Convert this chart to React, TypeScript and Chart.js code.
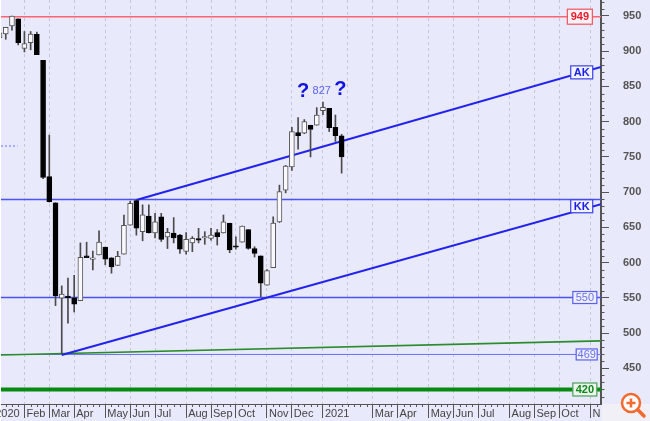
import React, { useEffect, useRef } from "react";
import { Chart, registerables } from "chart.js";

Chart.register(...registerables);

const FONT = '"Liberation Sans", Arial, sans-serif';

const weeks = [-1,0,1,2,3,4,5,6,7,8,9,10,11,12,13,14,15,16,17,18,19,20,21,22,23,24,25,26,27,28,29,30,31,32,33,34,35,36,37,38,39,40,41,42,43,44,45,46,47,48,49,50,51,52,53,54];
const opens = [919,924.5,936,946,904,912,924,887,722,685,549.5,552.6,550,546,609.5,604.5,611,622,607,596,612,653,688,644,666,642,665,636.5,642,639,616,628,634,635,634.5,642.5,642,655.7,624,629,647,620,609.5,568,593,657.7,703,736,784.5,783.6,794.7,795,815.6,819,792,780];
const closes = [926,934,950,912,911,924.5,895,721,686.5,552.6,555.5,550,541,607.6,607,607,629,605,594,609,653,684,649,668,642.5,658,633,643,635,619,633,634.5,632,637,639,636.7,658,618,622,652,620,613,570.7,588.6,656,700.7,737,786,780,800,789,809.5,820.5,791.5,780,750];
const highs = [926,934,950,946,928,928,927,887,781,685,567,578,582,628,629,616.5,645,622,607,616,667.6,687,689,682,682,670,670,648.7,664,640,642.5,637,648.7,644,648.7,647,667.6,656,636.7,652,647,622.6,609.5,590,665,710,738,792,806,803,795,820,828,819,809.5,782];
const lows = [915,917,930,909,899,902,895,719,686,539,471,514,530,546,607,589.5,611,597,585,596,612,653,639,631,642,635,630,620,628,613,612,615.5,628,626,632,625,642,614,619,629,619,608,551.7,568,593,657,699,731,761,783,750,795,810,786,772,727];

const monthWeeks = [-2.02,3,7,11,16,20,24,29,33,37,42,46,51,55,59,63,68,72,76,81,85,89,94];
const monthLabels = ["2020","Feb","Mar","Apr","May","Jun","Jul","Aug","Sep","Oct","Nov","Dec","2021","","Mar","Apr","May","Jun","Jul","Aug","Sep","Oct","N"];
const priceTicks = [450,500,550,600,650,700,750,800,850,900,950];
const minorPrices = [410,420,430,440,460,470,480,490,510,520,530,540,560,570,580,590,610,620,630,640,660,670,680,690,710,720,730,740,760,770,780,790,810,820,830,840,860,870,880,890,910,920,930,940,960,970];
const minorWeeks = [0,1,2,4,5,6,8,9,10,12,13,14,15,17,18,19,21,22,23,25,26,27,28,30,31,32,34,35,36,38,39,40,41,43,44,45,47,48,49,50,52,53,54,55,56,57,58,60,61,62,64,65,66,67,69,70,71,73,74,75,77,78,79,80,82,83,84,86,87,88,90,91,92,93,95];

const X_MIN = -0.765;
const X_MAX = 95.7;
const Y_MIN = 399.4;
const Y_MAX = 972.7;

const levelRed = 949;
const levelTop = 689.6;
const level550 = 550.5;
const level469 = 469.7;
const level420 = 420;
const dottedLevel = 765.5;
const akLine = [{ x: 21, y: 689 }, { x: X_MAX, y: 877.6 }];
const kkLine = [{ x: 9, y: 469 }, { x: X_MAX, y: 683 }];
const greenLine = [{ x: X_MIN, y: 469 }, { x: X_MAX, y: 489 }];

const boxes = [
  { text: "949", x: 92.3, y: 949, w: 25, h: 15, color: "#f4525f", text2: "#f01828", fill: "#f6f3f8", bold: true },
  { text: "AK", x: 92.6, y: 870, w: 22, h: 13, color: "#3a40f0", text2: "#1a20e8", fill: "#f2f3fd", bold: true },
  { text: "KK", x: 92.6, y: 680, w: 22, h: 13, color: "#3a40f0", text2: "#1a20e8", fill: "#f2f3fd", bold: true },
  { text: "550", x: 93.1, y: 550.5, w: 24, h: 12, color: "#5a60f0", text2: "#6a70f0", fill: "#eeeffc", bold: false },
  { text: "469", x: 93.4, y: 469.7, w: 21, h: 11, color: "#5a60f0", text2: "#6a70f0", fill: "#eeeffc", bold: false },
  { text: "420", x: 93.1, y: 420, w: 24, h: 13, color: "#4aa05a", text2: "#0a8a1a", fill: "#eef3ee", bold: true },
];
const notes = [
  { text: "?", x: 47.8, y: 842.5, font: `bold 20px ${FONT}`, color: "#1212e0" },
  { text: "827", x: 50.8, y: 844, font: `11px ${FONT}`, color: "#5a60f0" },
  { text: "?", x: 53.8, y: 846, font: `bold 20px ${FONT}`, color: "#1212e0" },
];

const horizontal = (v: number) => [{ x: X_MIN, y: v }, { x: X_MAX, y: v }];
const up = weeks.map((_, i) => closes[i] >= opens[i]);
const wickData = weeks.map((w, i) => ({ x: w, y: [lows[i], highs[i]] }));
const upData = weeks.map((w, i) => ({ x: w, y: [opens[i], closes[i]] })).filter((_, i) => up[i]);
const downData = weeks.map((w, i) => ({ x: w, y: [opens[i], closes[i]] })).filter((_, i) => !up[i]);

const lineDs = (data: any[], color: string, width: number, order: number, dash: number[] = []) => ({
  type: "line",
  data,
  borderColor: color,
  borderWidth: width,
  borderDash: dash,
  pointRadius: 0,
  order,
});

const decorations = {
  id: "decorations",
  beforeDraw(chart: any) {
    const { ctx, width, height } = chart;
    ctx.save();
    ctx.fillStyle = "#e8e9fb";
    ctx.fillRect(0, 0, width, height);
    ctx.fillStyle = "#f0f0f6";
    ctx.fillRect(602, 404, 48, 17);
    ctx.fillStyle = "#ffffff";
    ctx.fillRect(0, 0, 1, height);
    ctx.restore();
  },
  afterDraw(chart: any) {
    const { ctx } = chart;
    const xs = chart.scales.x;
    const ys = chart.scales.y;
    ctx.save();
    ctx.strokeStyle = "#555555";
    ctx.lineWidth = 1;
    ctx.beginPath();
    minorWeeks.forEach((w) => {
      const px = Math.round(xs.getPixelForValue(w)) + 0.5;
      ctx.moveTo(px, 404);
      ctx.lineTo(px, 407);
    });
    minorPrices.forEach((v) => {
      const py = Math.round(ys.getPixelForValue(v)) + 0.5;
      ctx.moveTo(601, py);
      ctx.lineTo(604.5, py);
    });
    ctx.stroke();

    ctx.textAlign = "center";
    ctx.textBaseline = "middle";
    boxes.forEach((b) => {
      const cx = xs.getPixelForValue(b.x);
      const cy = ys.getPixelForValue(b.y);
      ctx.fillStyle = b.fill;
      ctx.fillRect(cx - b.w / 2, cy - b.h / 2, b.w, b.h);
      ctx.strokeStyle = b.color;
      ctx.lineWidth = 1.2;
      ctx.strokeRect(cx - b.w / 2, cy - b.h / 2, b.w, b.h);
      ctx.fillStyle = b.text2;
      ctx.font = `${b.bold ? "bold " : ""}11px ${FONT}`;
      ctx.fillText(b.text, cx, cy + 0.5);
    });
    notes.forEach((n) => {
      ctx.font = n.font;
      ctx.fillStyle = n.color;
      ctx.fillText(n.text, xs.getPixelForValue(n.x), ys.getPixelForValue(n.y));
    });

    // zoom badge in the corner of the picture
    ctx.fillStyle = "#ffffff";
    ctx.beginPath();
    ctx.arc(631, 403, 9, 0, Math.PI * 2);
    ctx.fill();
    ctx.strokeStyle = "#f26a2e";
    ctx.lineWidth = 2.5;
    ctx.stroke();
    ctx.lineWidth = 3.5;
    ctx.lineCap = "round";
    ctx.beginPath();
    ctx.moveTo(638, 410);
    ctx.lineTo(644, 416);
    ctx.stroke();
    ctx.lineWidth = 2.5;
    ctx.lineCap = "butt";
    ctx.beginPath();
    ctx.moveTo(626.5, 403);
    ctx.lineTo(635.5, 403);
    ctx.moveTo(631, 398.5);
    ctx.lineTo(631, 407.5);
    ctx.stroke();
    ctx.restore();
  },
};

export default function App() {
  const ref = useRef<HTMLCanvasElement>(null);
  useEffect(() => {
    document.body.style.margin = "0";
    const chart = new Chart(ref.current as HTMLCanvasElement, {
      type: "bar",
      data: {
        datasets: [
          { data: upData, backgroundColor: "#f8f8fd", borderColor: "#555555", borderWidth: 1, borderSkipped: false, barThickness: 5, grouped: false, order: 1 },
          { data: downData, backgroundColor: "#000000", borderColor: "#000000", borderWidth: 1, borderSkipped: false, barThickness: 5, grouped: false, order: 1 },
          { data: wickData, backgroundColor: "#4a4a4a", barThickness: 1, grouped: false, order: 2 },
          lineDs(akLine, "#2222ee", 2, 3),
          lineDs(kkLine, "#2222ee", 2, 3),
          lineDs(horizontal(levelRed), "#fb6470", 1.6, 4),
          lineDs(horizontal(levelTop), "#4a52fa", 1.5, 6),
          lineDs(horizontal(level550), "#4a52fa", 1.5, 6),
          lineDs(greenLine, "#2a8c2a", 1.6, 4),
          lineDs(horizontal(level469), "#6a70f4", 1, 6),
          lineDs(horizontal(level420), "#078a0f", 4, 4),
          lineDs([{ x: X_MIN, y: dottedLevel }, { x: 1.9, y: dottedLevel }], "#6a70f4", 1, 6, [2, 2]),
        ] as any,
      },
      options: {
        animation: false,
        responsive: false,
        devicePixelRatio: 1,
        layout: { padding: { left: 1, right: 0, top: 0, bottom: 0 }, autoPadding: false },
        plugins: { legend: { display: false }, tooltip: { enabled: false } },
        scales: {
          x: {
            type: "linear",
            position: "bottom",
            offset: false,
            min: X_MIN,
            max: X_MAX,
            afterBuildTicks: (axis: any) => {
              axis.ticks = monthWeeks.map((value) => ({ value }));
            },
            afterFit: (axis: any) => {
              axis.height = 17;
              axis.paddingLeft = 0;
              axis.paddingRight = 0;
            },
            grid: {
              offset: false,
              color: "#c6c7d4",
              lineWidth: 1,
              tickColor: (ctx: any) => (ctx.tick && monthLabels[monthWeeks.indexOf(ctx.tick.value)] === "" ? "rgba(0,0,0,0)" : "#555555"),
              tickLength: 14,
              tickBorderDash: [],
            },
            border: { color: "#555555", width: 1, dash: [3, 3] },
            ticks: {
              autoSkip: false,
              maxRotation: 0,
              minRotation: 0,
              align: "start",
              labelOffset: 2,
              padding: -11,
              color: "#444444",
              font: { family: FONT, size: 11 },
              callback: (value: any) => {
                const i = monthWeeks.indexOf(value);
                return i >= 0 ? monthLabels[i] : "";
              },
            },
          },
          y: {
            type: "linear",
            position: "right",
            beginAtZero: false,
            min: Y_MIN,
            max: Y_MAX,
            afterBuildTicks: (axis: any) => {
              axis.ticks = priceTicks.map((value) => ({ value }));
            },
            afterFit: (axis: any) => {
              axis.width = 49;
              axis.paddingTop = 0;
              axis.paddingBottom = 0;
            },
            grid: { drawOnChartArea: false, tickColor: "#555555", tickLength: 8 },
            border: { color: "#555555", width: 2 },
            ticks: {
              padding: 14,
              color: "#555555",
              font: { family: FONT, size: 11, weight: "bold" },
              callback: (value: any) => String(value),
            },
          },
        },
      } as any,
      plugins: [decorations],
    });
    return () => chart.destroy();
  }, []);
  return <canvas ref={ref} width={650} height={421} style={{ display: "block" }} />;
}
